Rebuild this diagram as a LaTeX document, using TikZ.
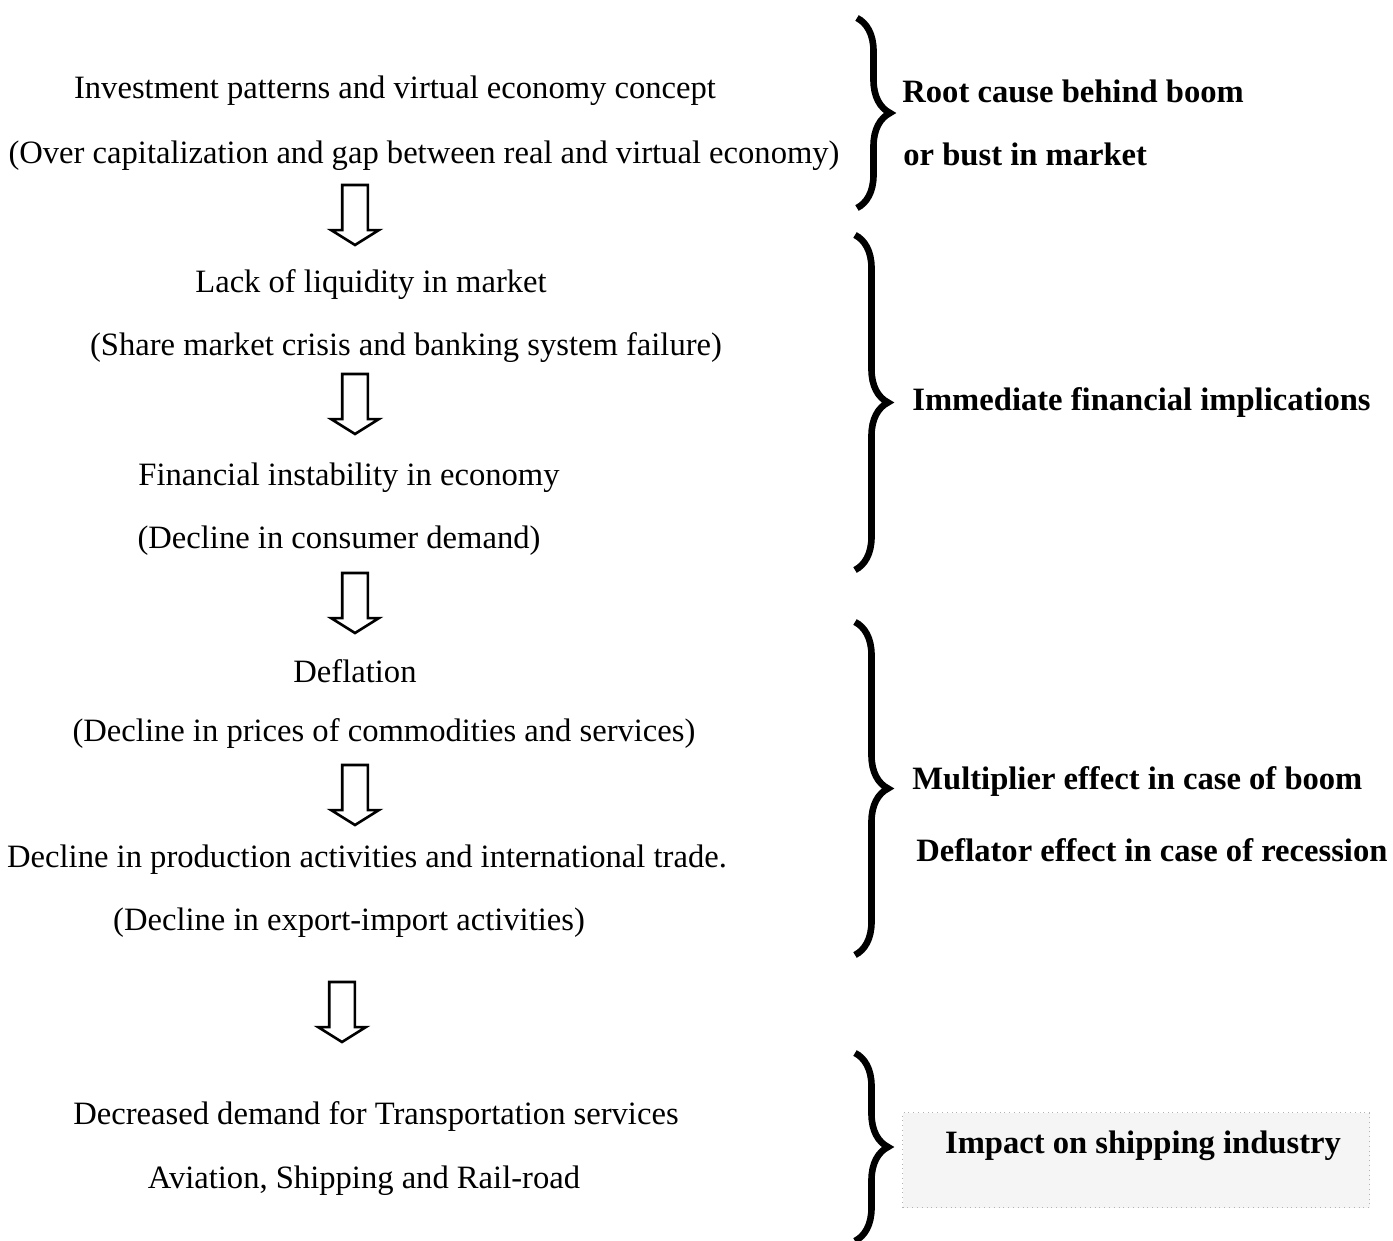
\documentclass[tikz,border=0pt]{standalone}
\usepackage{fontspec}
\setmainfont{Liberation Serif}
\usetikzlibrary{shapes.arrows,decorations.pathreplacing}
\tikzstyle{stage}=[font=\fontsize{16.3}{19}\selectfont,inner sep=0pt]
\tikzstyle{effect}=[font=\fontsize{16.3}{19}\selectfont\bfseries,anchor=west,inner sep=0pt]
\tikzstyle{down}=[single arrow,draw,line width=1.3pt,rotate=-90,inner xsep=0pt,inner ysep=5.75pt,minimum height=30pt,single arrow head extend=5.5pt,single arrow tip angle=116]
\tikzstyle{curly}=[decorate,decoration={brace,amplitude=16.5pt},line width=3.3pt]
\tikzstyle{shaded}=[draw=gray!60,dotted,fill=gray!8,minimum width=233.5pt,minimum height=47.5pt]

\begin{document}
\begin{tikzpicture}[x=0.5pt,y=-0.5pt]
  \useasboundingbox (0,0) rectangle (1393,1241);
  \node[stage] (inv) at (395,91) {Investment patterns and virtual economy concept};
  \node[stage] (invd) at (424,156) {(Over capitalization and gap between real and virtual economy)};
  \node[down] (a1) at (355,211) {};
  \node[stage] (liq) at (371,285) {Lack of liquidity in market};
  \node[stage] (liqd) at (406,348) {(Share market crisis and banking system failure)};
  \node[down] (a2) at (355,400) {};
  \node[stage] (fin) at (349,478) {Financial instability in economy};
  \node[stage] (find) at (339,541) {(Decline in consumer demand)};
  \node[down] (a3) at (355,599) {};
  \node[stage] (defl) at (355,671) {Deflation};
  \node[stage] (defld) at (384,733) {(Decline in prices of commodities and services)};
  \node[down] (a4) at (355,791) {};
  \node[stage] (prod) at (367,860) {Decline in production activities and international trade.};
  \node[stage] (prodd) at (349,923) {(Decline in export-import activities)};
  \node[down] (a5) at (342,1008) {};
  \node[stage] (trans) at (376,1116) {Decreased demand for Transportation services};
  \node[stage] (transd) at (364,1181) {Aviation, Shipping and Rail-road};

  \draw[curly] (857,18) -- (857,208);
  \draw[curly] (855,235) -- (855,570);
  \draw[curly] (855,622) -- (855,955);
  \draw[curly] (855,1053) -- (855,1241);

  \node[effect] (root) at (902,91) {Root cause behind boom};
  \node[effect] (bust) at (903,154) {or bust in market};
  \node[effect] (imm) at (912,402) {Immediate financial implications};
  \node[effect] (mult) at (912,781) {Multiplier effect in case of boom};
  \node[effect] (defr) at (916,850) {Deflator effect in case of recession};
  \node[shaded] (impbox) at (1136,1160) {};
  \node[effect,anchor=center] (imp) at (1143,1146) {Impact on shipping industry};
\end{tikzpicture}
\end{document}
